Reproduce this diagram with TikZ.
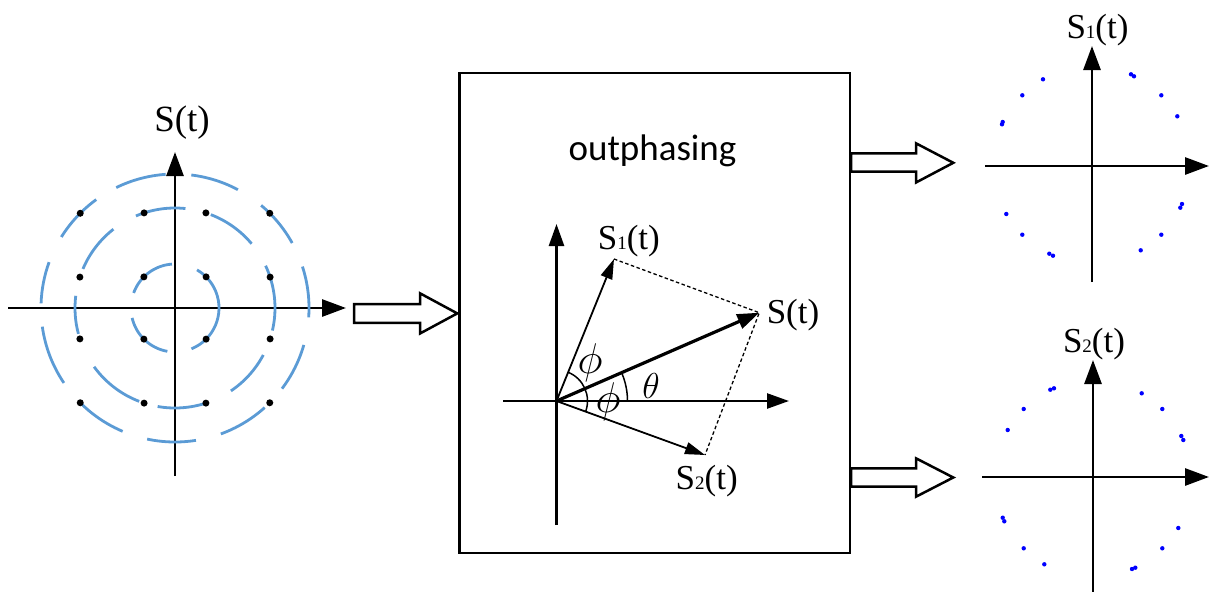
\RequirePackage{fix-cm}
\documentclass[tikz,border=0pt]{standalone}
\usepackage{fontspec}
\setmainfont{Liberation Serif}
\newfontfamily\calib{Carlito}
\usetikzlibrary{arrows.meta,calc}
\definecolor{arcblue}{RGB}{91,155,213}
\definecolor{dotblue}{RGB}{0,0,255}
\newcommand{\Ssub}[1]{S{\fontsize{19}{19}\selectfont #1}(t)}
\begin{document}
\begin{tikzpicture}[x=1pt,y=-1pt,
  axis/.style={line width=2.8pt,-{Triangle[length=24pt,width=17pt]}},
  axisb/.style={line width=2.5pt,-{Triangle[length=22pt,width=15pt]}},
  vec/.style={line width=1.8pt,-{Triangle[length=20pt,width=12pt]}},
  vecS/.style={line width=3.2pt,-{Triangle[length=22pt,width=15pt]}},
  dline/.style={line width=1.3pt,dash pattern=on 3.5pt off 2.5pt},
  bluearc/.style={arcblue,line width=2.8pt},
  angarc/.style={line width=1.5pt},
  blockarrow/.style={draw=black,fill=white,line width=2.5pt,line join=miter},
  lab/.style={font=\fontsize{35}{40}\selectfont,inner sep=0pt},
  greek/.style={inner sep=0pt}]
\useasboundingbox (0,0) rectangle (1211,592);

% ---------- left constellation ----------
\coordinate (L) at (175,308);
\coordinate (Lw) at (8,308);
\coordinate (Le) at (346,308);
\coordinate (Ls) at (175,476);
\coordinate (Ln) at (175,152);
\draw[axis] (Lw) -- (Le);
\draw[axis] (Ls) -- (Ln);
\foreach \a/\b in {94/116,62/83,29/50,-4/18,-37/-16,-70/-48,-102/-81,-134/-113,-172/-146,160/178,126/148}
  \draw[bluearc] ($(L)+(\a:134pt)$) arc[start angle=\a,end angle=\b,radius=134pt];
\foreach \a/\b in {84/113,40/69,-13/25,-56/-28,-100/-72,-144/-111,173/195,128/157}
  \draw[bluearc] ($(L)+(\a:100pt)$) arc[start angle=\a,end angle=\b,radius=100pt];
\foreach \a/\b in {94/160,-68/60,-167/-100}
  \draw[bluearc] ($(L)+(\a:44pt)$) arc[start angle=\a,end angle=\b,radius=44pt];
\foreach \a in {45,135,225,315}
  \fill ($(L)+(\a:44pt)$) circle[radius=3.5pt];
\foreach \a in {18,72,108,162,198,252,288,342}
  \fill ($(L)+(\a:100pt)$) circle[radius=3.5pt];
\foreach \a in {45,135,225,315}
  \fill ($(L)+(\a:134pt)$) circle[radius=3.5pt];
\node[lab,font=\fontsize{37}{42}\selectfont] (lS) at (182,123) {S(t)};

% ---------- block arrows ----------
\draw[blockarrow] (354,304) -- (420,304) -- (420,293.3) -- (457.3,313.4) -- (420,333.5) -- (420,322.8) -- (354,322.8) -- cycle;
\draw[blockarrow] (851,153.3) -- (916,153.3) -- (916,143.3) -- (953.3,162.8) -- (916,182.5) -- (916,171.7) -- (851,171.7) -- cycle;
\draw[blockarrow] (851,468.3) -- (916,468.3) -- (916,458.3) -- (953.3,477.5) -- (916,496.7) -- (916,486.7) -- (851,486.7) -- cycle;

% ---------- central box ----------
\node[draw,line width=2.8pt,minimum width=390.5pt,minimum height=480pt,inner sep=0pt] (box) at (654.75,313) {};
\node[inner sep=0pt,font=\calib\fontsize{37}{42}\selectfont] (title) at (652.5,151) {outphasing};

\coordinate (O) at (556.5,401);
\coordinate (Ox1) at (503,401);
\coordinate (Ox2) at (789,401);
\coordinate (Oy1) at (556.5,525);
\coordinate (Oy2) at (556.5,224);
\draw[axisb] (Ox1) -- (Ox2);
\draw[axisb] (Oy1) -- (Oy2);
\coordinate (s1) at (614,259);
\coordinate (s) at (759.3,312.7);
\coordinate (s2) at (705,455);
\draw[dline] (s1) -- (s) -- (s2);
\draw[vec] (O) -- (s1);
\draw[vec] (O) -- (s2);
\draw[vecS] (O) -- (s);
\draw[angarc] ($(O)+(68:31pt)$) arc[start angle=68,end angle=-20,radius=31pt];
\draw[angarc] ($(O)+(0:71pt)$) arc[start angle=0,end angle=23.5,radius=71pt];
\node[greek,font=\fontsize{43}{43}\selectfont] (phi1) at (590,363) {$\phi$};
\node[greek,font=\fontsize{43}{43}\selectfont] (phi2) at (608,402) {$\phi$};
\node[greek,font=\fontsize{36}{36}\selectfont] (theta) at (651,386) {$\theta$};
\node[lab] (lS1) at (628.8,241) {\Ssub{1}};
\node[lab] (lSb) at (793,315) {S(t)};
\node[lab] (lS2) at (706.7,481) {\Ssub{2}};

% ---------- right top ----------
\coordinate (R1) at (1092,166);
\coordinate (R1w) at (985,166);
\coordinate (R1e) at (1209,166);
\coordinate (R1s) at (1092,282);
\coordinate (R1n) at (1092,46);
\draw[axis] (R1w) -- (R1e);
\draw[axis] (R1s) -- (R1n);
\foreach \dx/\dy in {-49/-86.7,-69.7/-70.7,-90/-41.7,-89.3/-44,39/-91.7,42/-89.7,69.3/-70.7,85.3/-49.7,90/38,88.3/41.7,69.3/68.7,48.7/84.3,-85.7/48,-69.7/68.7,-42.7/87.7,-39/89.7}
  \fill[dotblue] ($(R1)+(\dx,\dy)$) circle[radius=2.2pt];
\node[lab] (rS1) at (1097.5,30) {\Ssub{1}};

% ---------- right bottom ----------
\coordinate (R2) at (1093,477);
\coordinate (R2w) at (982,477);
\coordinate (R2e) at (1209,477);
\coordinate (R2s) at (1093,592);
\coordinate (R2n) at (1093,360);
\draw[axis] (R2w) -- (R2e);
\draw[axis] (R2s) -- (R2n);
\foreach \dx/\dy in {-42.7/-87.3,-39/-88.7,-69.3/-68,-85.3/-47,48.7/-83.7,69.3/-68,88.3/-41,90.3/-37,-90.3/40.7,-88.7/44.3,-69.3/71.3,-48.7/87.3,39/92,42.3/90.7,69.3/71.3,85.3/51}
  \fill[dotblue] ($(R2)+(\dx,\dy)$) circle[radius=2.2pt];
\node[lab] (rS2) at (1094,344) {\Ssub{2}};
\end{tikzpicture}
\end{document}
